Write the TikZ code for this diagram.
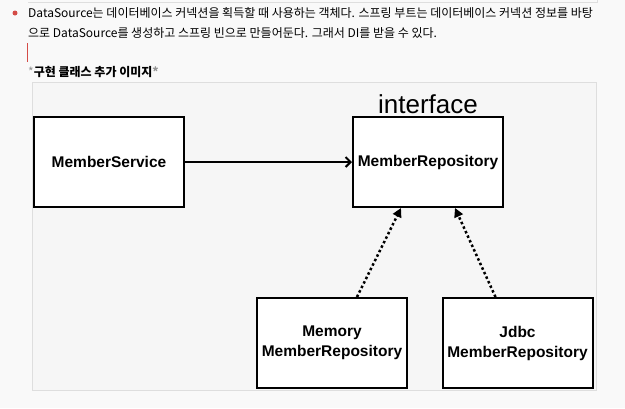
\documentclass[tikz,border=0pt]{standalone}
\usepackage{fontspec}
\setmainfont{Liberation Sans}
\newfontfamily\kofont{Noto Sans CJK KR}
\usetikzlibrary{arrows.meta,positioning}
\definecolor{PageGray}{RGB}{249,249,249}
\definecolor{ImgGray}{RGB}{246,246,246}
\definecolor{FrameGray}{RGB}{222,222,222}
\definecolor{NoteRed}{RGB}{212,76,71}
\definecolor{StarGray}{RGB}{150,150,150}
\tikzset{
	cls/.style={draw=black, line width=2pt, fill=white, minimum width=150pt, minimum height=90pt, align=center, font=\bfseries\fontsize{15.5}{20}\selectfont},
	uses/.style={line width=2pt, -{Straight Barb[length=5pt,width=10pt]}},
	impl/.style={line width=2.5pt, dash pattern=on 2.5pt off 2.5pt, -{Triangle[length=9pt,width=9pt]}},
	note/.style={anchor=west, inner sep=0pt, font=\kofont\fontsize{12}{14}\selectfont}
}

\begin{document}
\begin{tikzpicture}[x=1pt, y=-1pt]
	\fill[PageGray] (0,0) rectangle (625,408);
	\useasboundingbox (0,0) rectangle (625,408);
	% text above the picture
	\draw[FrameGray] (28,2) -- (597,2) -- (597,0);
	\fill[NoteRed] (15,13) circle (2.5pt);
	\node[note] (line1) at (28,13) {DataSource는 데이터베이스 커넥션을 획득할 때 사용하는 객체다. 스프링 부트는 데이터베이스 커넥션 정보를 바탕};
	\node[note] (line2) at (28,33) {으로 DataSource를 생성하고 스프링 빈으로 만들어둔다. 그래서 DI를 받을 수 있다.};
	\draw[NoteRed, line width=1pt] (27,43) -- (27,62);
	\node[note] (cap) at (28,72) {\textcolor{StarGray}{*}\bfseries 구현 클래스 추가 이미지\textcolor{StarGray}{*}};
	\draw[FrameGray, fill=ImgGray] (32,82) rectangle (596,390);
	% classes
	\node[cls] (svc) at (109,162) {MemberService};
	\node[cls] (repo) at (428,162) {MemberRepository};
	\node[font=\fontsize{26}{28}\selectfont, inner sep=0pt, above=2pt of repo] (iface) {interface};
	\node[cls] (mem) at (332,343) {Memory\\MemberRepository};
	\node[cls] (jdbc) at (517.5,343) {Jdbc\\MemberRepository};
	\draw[uses] (svc) -- (repo);
	\draw[impl] ([xshift=25pt]mem.north) -- ([xshift=-27pt]repo.south);
	\draw[impl] ([xshift=-22pt]jdbc.north) -- ([xshift=27pt]repo.south);
\end{tikzpicture}
\end{document}
